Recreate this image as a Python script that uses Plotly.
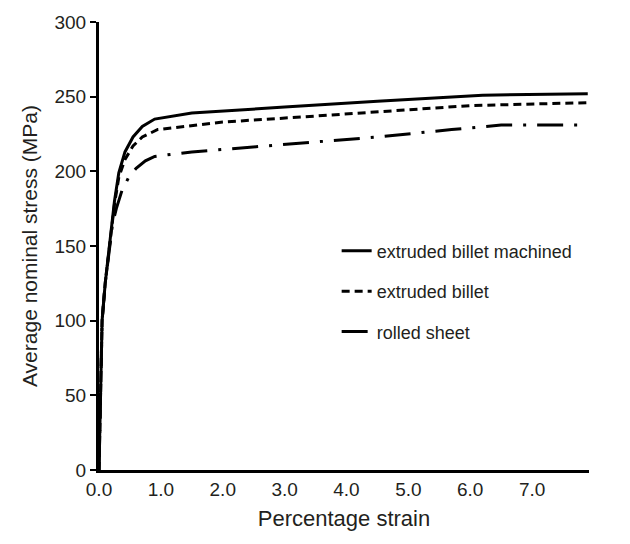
import plotly.graph_objects as go

# Data
strain_machined = [0.0, 0.02, 0.05, 0.1, 0.17, 0.25, 0.32, 0.42, 0.55, 0.7, 0.9, 1.5, 3.0, 4.5, 6.2, 7.9]
stress_machined = [0, 50, 100, 125, 150, 180, 199, 213, 223, 230, 235, 239, 243, 247, 251, 252]

strain_billet = [0.0, 0.02, 0.05, 0.1, 0.17, 0.25, 0.32, 0.42, 0.55, 0.7, 0.95, 2.0, 3.5, 5.0, 6.0, 7.9]
stress_billet = [0, 50, 100, 125, 150, 178, 196, 208, 217, 223, 228, 233, 237, 241, 244, 246]

strain_rolled = [0.0, 0.02, 0.05, 0.1, 0.17, 0.22, 0.28, 0.37, 0.48, 0.6, 0.75, 0.9, 1.5, 3.0, 4.5, 5.7, 6.5, 7.9]
stress_rolled = [0, 50, 100, 125, 150, 165, 175, 187, 196, 202, 207, 210, 213, 218, 223, 228, 231, 231]

series_names = ["extruded billet machined", "extruded billet", "rolled sheet"]
x_tick_vals = [0, 1, 2, 3, 4, 5, 6, 7]
x_tick_text = ["0.0", "1.0", "2.0", "3.0", "4.0", "5.0", "6.0", "7.0"]
y_tick_vals = [0, 50, 100, 150, 200, 250, 300]

fig = go.Figure()
fig.add_trace(go.Scatter(x=strain_machined, y=stress_machined, mode="lines",
                         name=series_names[0], legendgroup="a",
                         line=dict(color="black", width=3)))
fig.add_trace(go.Scatter(x=strain_billet, y=stress_billet, mode="lines",
                         name=series_names[1], legendgroup="b",
                         line=dict(color="black", width=3, dash="8px,5px")))
fig.add_trace(go.Scatter(x=strain_rolled, y=stress_rolled, mode="lines",
                         name=series_names[2], legendgroup="c",
                         line=dict(color="black", width=3, dash="26px,11px,3px,11px")))

font_family = "Liberation Sans, Arial, sans-serif"
fig.update_layout(
    width=630, height=544,
    margin=dict(l=91, r=49, t=14, b=82),
    paper_bgcolor="white", plot_bgcolor="white",
    font=dict(family=font_family, size=19, color="#231f20"),
    showlegend=True,
    legend=dict(x=0.485, y=0.53, xanchor="left", yanchor="top",
                bgcolor="rgba(0,0,0,0)", tracegroupgap=14,
                font=dict(size=18, color="#231f20")),
    xaxis=dict(range=[0, 7.92], tickvals=x_tick_vals, ticktext=x_tick_text,
               showline=True, linecolor="black", linewidth=3, ticks="",
               showgrid=False, zeroline=False, automargin=False,
               ticklabeloverflow="allow",
               title=dict(text="Percentage strain", font=dict(size=22), standoff=12)),
    yaxis=dict(range=[0, 300], tickvals=y_tick_vals,
               showline=True, linecolor="black", linewidth=3, ticks="outside",
               ticklen=6, tickwidth=2, tickcolor="black",
               showgrid=False, zeroline=False, automargin=False,
               ticklabeloverflow="allow",
               title=dict(text="Average nominal stress (MPa)", font=dict(size=21), standoff=12)),
)

fig.write_html("out.html")
